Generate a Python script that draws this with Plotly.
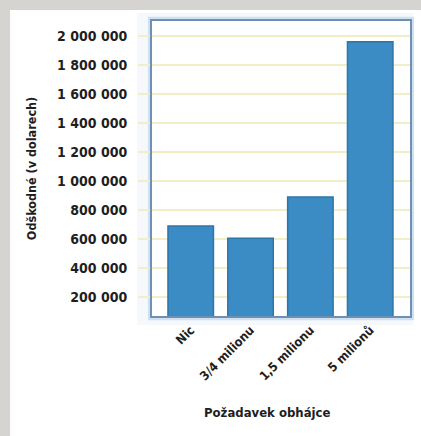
import plotly.graph_objects as go

categories = ["Nic", "3/4 milionu", "1,5 milionu", "5 milionů"]
values = [690000, 605000, 890000, 1960000]
y_tick_vals = [200000, 400000, 600000, 800000, 1000000, 1200000, 1400000, 1600000, 1800000, 2000000]
y_tick_text = ["200 000", "400 000", "600 000", "800 000", "1 000 000", "1 200 000",
               "1 400 000", "1 600 000", "1 800 000", "2 000 000"]
x_title = "Požadavek obhájce"
y_title = "Odškodné (v dolarech)"

W, H = 421, 436
FONT = "'DejaVu Sans Condensed', 'Liberation Sans Narrow', 'DejaVu Sans', sans-serif"

def f(size):
    return dict(size=size, family=FONT, weight="bold", color="#1e1e1e")

fig = go.Figure()
fig.add_trace(go.Bar(
    x=categories, y=values, width=0.76,
    marker=dict(color="#3b8cc4", line=dict(color="#2e75a8", width=1.5)),
    hoverinfo="skip",
))

ml, mr, mt, mb = 152, 9, 21, 120
pw, ph = W - ml - mr, H - mt - mb

fig.update_layout(
    width=W, height=H,
    margin=dict(l=ml, r=mr, t=mt, b=mb),
    paper_bgcolor="#d6d4d0",
    plot_bgcolor="white",
    showlegend=False,
    font=f(14),
    xaxis=dict(
        range=[-0.647, 3.665],
        tickangle=-45,
        tickfont=f(12.5),
        showgrid=False,
        showline=True, mirror=True, linecolor="#6f8fb5", linewidth=2,
        ticks="", ticklen=0,
    ),
    yaxis=dict(
        range=[68000, 2104000],
        tickvals=y_tick_vals, ticktext=y_tick_text,
        tickfont=f(14),
        showgrid=True, gridcolor="#f2efc6", gridwidth=2,
        ticks="outside", ticklen=12, tickcolor="#f2efc6", tickwidth=2,
        ticklabelstandoff=8,
        showline=True, mirror=True, linecolor="#6f8fb5", linewidth=2,
        zeroline=False,
        title=dict(text=y_title, font=f(12.5), standoff=18),
    ),
    annotations=[
        dict(text=x_title, xref="paper", yref="paper",
             x=(268 - ml) / pw, y=-(412 - (H - mb)) / ph,
             xanchor="center", yanchor="middle", showarrow=False, font=f(13)),
    ],
    shapes=[
        dict(type="rect", xref="paper", yref="paper", layer="below",
             x0=(9 - ml) / pw, x1=(W - ml) / pw + 0.01,
             y0=-(mb + 5) / ph, y1=(H - 10 - mb) / ph,
             fillcolor="white", line=dict(width=0)),
        dict(type="rect", xref="paper", yref="paper", layer="below",
             x0=(137 - ml) / pw, x1=(415 - ml) / pw,
             y0=(H - 325 - mb) / ph, y1=(H - 13 - mb) / ph,
             fillcolor="#f6f9fc", line=dict(width=0)),
        dict(type="rect", xref="paper", yref="paper", layer="below",
             x0=0, x1=1, y0=0, y1=1,
             fillcolor="white", line=dict(width=0)),
        dict(type="rect", xref="paper", yref="paper", layer="below",
             x0=-0.008, x1=1.008, y0=-0.008, y1=1.008,
             fillcolor="rgba(0,0,0,0)", line=dict(color="#cfe0ef", width=4)),
    ],
)

fig.write_html("out.html")
